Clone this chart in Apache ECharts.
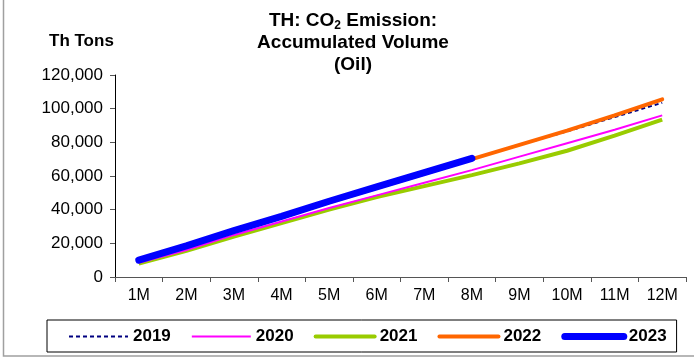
<!DOCTYPE html>
<html><head><meta charset="utf-8">
<script src="https://cdn.jsdelivr.net/npm/echarts@6/dist/echarts.min.js"></script>
<style>html,body{margin:0;padding:0;background:#fff}#c{width:694px;height:363px}</style>
</head><body><div id="c"></div>
<script>
const categories = ['1M','2M','3M','4M','5M','6M','7M','8M','9M','10M','11M','12M'];
const yTicks = [0, 20000, 40000, 60000, 80000, 100000, 120000];
const s2019 = [9500, 18000, 27000, 35500, 44500, 53000, 61500, 70000, 78500, 86500, 95000, 103500];
const s2020 = [8500, 16000, 25000, 33000, 41000, 48500, 56000, 63500, 71500, 79500, 87500, 96000];
const s2021 = [8000, 15500, 24000, 32000, 40000, 47500, 54000, 60500, 67500, 75000, 84000, 93500];
const s2022 = [9500, 18000, 27000, 35500, 44500, 53000, 61500, 70000, 78500, 87000, 96000, 105500];
const s2023 = [10000, 18500, 27500, 36000, 45000, 53500, 62000, 70500];

const chart = echarts.init(document.getElementById('c'));
const font = 'Arial, "Liberation Sans", sans-serif';
const hideSym = { opacity: 0 };
chart.setOption({
  animation: false,
  backgroundColor: '#fff',
  textStyle: { fontFamily: font },
  graphic: [
    { type: 'rect', shape: { x: 3.5, y: -5, width: 720, height: 361 }, style: { fill: 'none', stroke: '#a0a0a0', lineWidth: 1.5 }, z: 0 },
    { type: 'text', left: 49, top: 33, style: { text: 'Th Tons', font: 'bold 17px ' + font, fill: '#000' } }
  ],
  title: {
    text: 'TH: CO{sub|2} Emission:\nAccumulated Volume\n(Oil)',
    left: 348, textAlign: 'center', top: 5,
    textStyle: {
      fontFamily: font, fontSize: 19, fontWeight: 'bold', color: '#000', lineHeight: 22,
      rich: { sub: { fontSize: 12, fontWeight: 'bold', fontFamily: font, color: '#000', verticalAlign: 'bottom', lineHeight: 10 } }
    }
  },
  grid: { left: 115, right: 8, top: 75, bottom: 86 },
  xAxis: {
    type: 'category', data: categories, boundaryGap: true,
    axisLine: { lineStyle: { color: '#555', width: 1 } },
    axisTick: { show: true, length: 5, lineStyle: { color: '#555' } },
    axisLabel: { color: '#000', fontSize: 16, fontFamily: font, margin: 11 }
  },
  yAxis: {
    type: 'value', min: 0, max: 120000, interval: 20000,
    axisLine: { show: true, lineStyle: { color: '#000' } },
    axisTick: { show: true, length: 5, lineStyle: { color: '#555' } },
    splitLine: { show: false },
    axisLabel: { color: '#000', fontSize: 17, fontFamily: font, margin: 12,
      formatter: v => yTicks.includes(v) ? v.toLocaleString('en-US') : '' }
  },
  legend: {
    bottom: 11, left: 47,
    orient: 'horizontal',
    borderColor: '#000', borderWidth: 1,
    padding: [8, 10, 7, 21],
    itemWidth: 59, itemHeight: 14, itemGap: 20,
    itemStyle: hideSym,
    textStyle: { fontSize: 17, fontWeight: 'bold', color: '#000', fontFamily: font },
    data: [
      { name: '2019', itemStyle: hideSym, lineStyle: { width: 2, type: [4, 3], color: '#000080' } },
      { name: '2020', itemStyle: hideSym, lineStyle: { width: 2, color: '#FF00FF' } },
      { name: '2021', itemStyle: hideSym, lineStyle: { width: 4, color: '#99CC00', cap: 'round' } },
      { name: '2022', itemStyle: hideSym, lineStyle: { width: 4, color: '#FF6600', cap: 'round' } },
      { name: '2023', itemStyle: hideSym, lineStyle: { width: 7, color: '#0000FF', cap: 'round' } }
    ]
  },
  series: [
    { name: '2019', type: 'line', data: s2019, symbol: 'none', lineStyle: { color: '#000080', width: 2, type: [4, 3] }, itemStyle: { color: '#000080' }, z: 3 },
    { name: '2020', type: 'line', data: s2020, symbol: 'none', lineStyle: { color: '#FF00FF', width: 2 }, itemStyle: { color: '#FF00FF' }, z: 2 },
    { name: '2021', type: 'line', data: s2021, symbol: 'none', lineStyle: { color: '#99CC00', width: 4 }, itemStyle: { color: '#99CC00' }, z: 1 },
    { name: '2022', type: 'line', data: s2022, symbol: 'none', lineStyle: { color: '#FF6600', width: 4, cap: 'round' }, itemStyle: { color: '#FF6600' }, z: 4 },
    { name: '2023', type: 'line', data: s2023, symbol: 'none', lineStyle: { color: '#0000FF', width: 7, cap: 'round' }, itemStyle: { color: '#0000FF' }, z: 5 }
  ]
});
</script></body></html>
